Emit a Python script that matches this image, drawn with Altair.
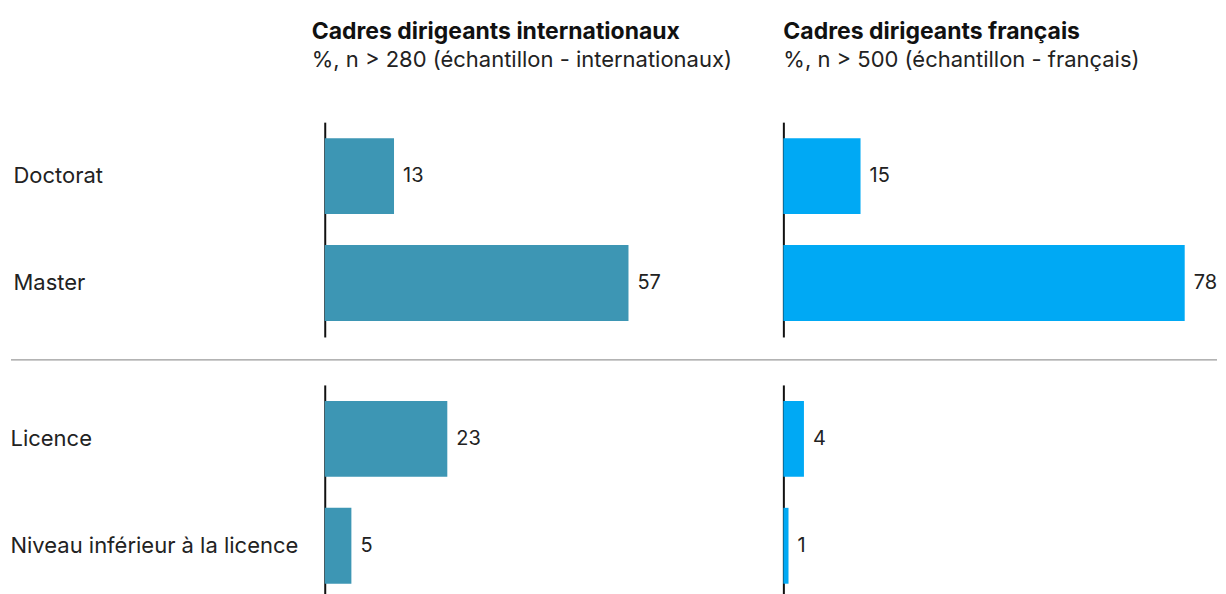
import altair as alt
import pandas as pd

FONT = "Inter"

categories = ["Doctorat", "Master", "Licence", "Niveau inférieur à la licence"]
intl_values = [13, 57, 23, 5]
fr_values = [15, 78, 4, 1]
group = ["haut", "haut", "bas", "bas"]

df = pd.DataFrame({"cat": categories, "intl": intl_values, "fr": fr_values, "grp": group})

INTL_COLOR = "#3D96B4"
FR_COLOR = "#00A9F4"


def panel(data, col, color, dmax, width, show_labels, lab_pad, title=None):
    order = list(data["cat"])
    base = alt.Chart(data).encode(
        y=alt.Y(
            "cat:N",
            sort=order,
            scale=alt.Scale(paddingInner=0.29, paddingOuter=0.15),
            axis=alt.Axis(
                title=None,
                labels=show_labels,
                ticks=False,
                domainColor="#111111",
                domainWidth=2,
                labelAlign="left",
                labelPadding=lab_pad,
                labelFontSize=22,
                labelFont=FONT,
                labelColor="#222222",
                labelLimit=0,
            ),
        )
    )
    xenc = alt.X(f"{col}:Q", scale=alt.Scale(domain=[0, dmax], nice=False), axis=None)
    bars = base.mark_bar(color=color).encode(x=xenc)
    text = base.mark_text(
        align="left", baseline="middle", dx=9, fontSize=20, font=FONT, color="#222222"
    ).encode(x=xenc, text=f"{col}:Q")
    props = dict(width=width, height=215)
    if title is not None:
        props["title"] = title
    return alt.layer(bars, text).properties(**props)


def ttl(text, sub_normal, dx):
    return alt.TitleParams(
        text=text,
        subtitle=sub_normal,
        anchor="start",
        frame="group",
        dx=dx,
        font=FONT,
        fontSize=23,
        fontWeight="bold",
        color="#111111",
        subtitleFont=FONT,
        subtitleFontSize=22,
        subtitleColor="#222222",
        subtitlePadding=6,
        offset=51,
    )


top = df[df["grp"] == "haut"]
bot = df[df["grp"] == "bas"]

L_MAX, L_W = 82.5, 440
R_MAX, R_W = 83.5, 430

row1 = alt.hconcat(
    panel(top, "intl", INTL_COLOR, L_MAX, L_W, True, 312,
          ttl("Cadres dirigeants internationaux", "%, n > 280 (échantillon - internationaux)", -13)),
    panel(top, "fr", FR_COLOR, R_MAX, R_W, False, 0,
          ttl("Cadres dirigeants français", "%, n > 500 (échantillon - français)", 0)),
    spacing=19,
)
row2 = alt.hconcat(
    panel(bot, "intl", INTL_COLOR, L_MAX, L_W, True, 315),
    panel(bot, "fr", FR_COLOR, R_MAX, R_W, False, 0),
    spacing=19,
)

sep = alt.Chart(pd.DataFrame({"a": [0]})).mark_rule(color="#9a9a9a", strokeWidth=1.2).encode(
    x=alt.value(-314), x2=alt.value(893), y=alt.value(12)
).properties(width=1, height=26)

chart = alt.vconcat(row1, sep, row2, spacing=11).properties(
    padding={"left": 2, "top": 13, "right": 0, "bottom": 0}
).configure_view(stroke=None)

chart.save("out.html", embed_options={"renderer": "svg", "actions": False})
